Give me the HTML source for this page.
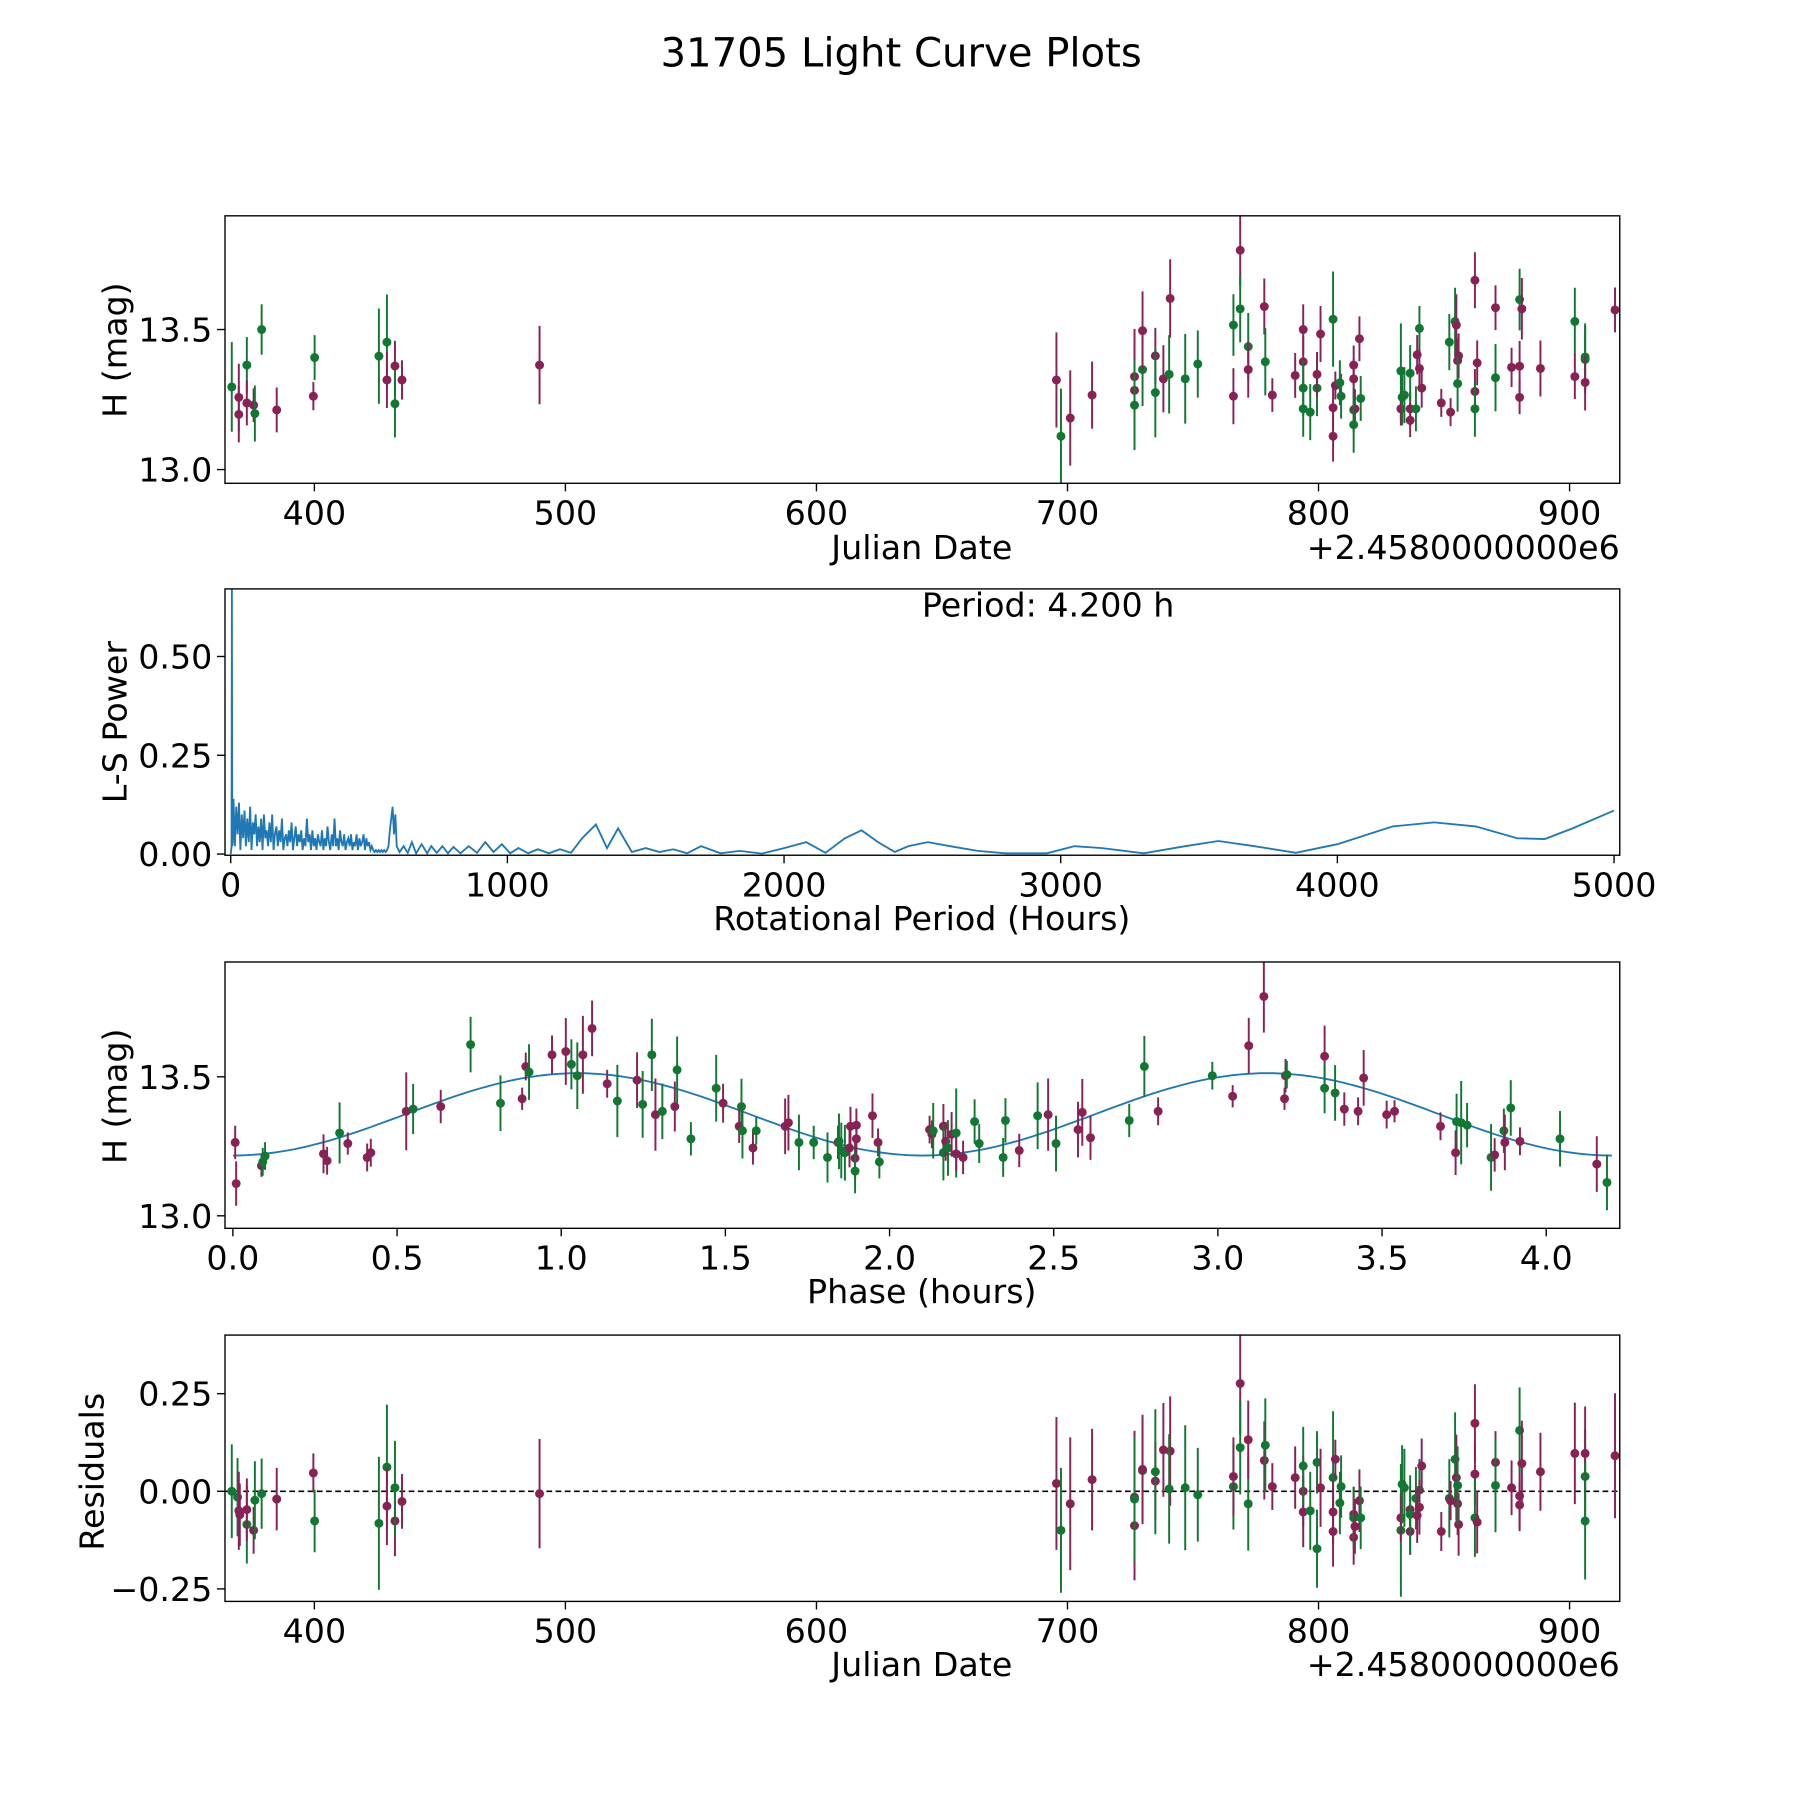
<!DOCTYPE html>
<html><head><meta charset="utf-8"><style>
html,body{margin:0;padding:0;background:#fff}
svg{display:block}
text{font-family:"DejaVu Sans","Liberation Sans",sans-serif;fill:#000}
</style></head><body>
<svg id="fig" xmlns="http://www.w3.org/2000/svg" width="1800" height="1800" viewBox="0 0 1568 1568">
<rect width="1568" height="1568" fill="#fff"/>
<text x="785" y="58" font-size="35" text-anchor="middle">31705 Light Curve Plots</text>
</svg>
<script>
// ---- Panel 1: light curve ----
const lcJD=[367.1,369.9,369.9,373.1,373.1,375.8,376.3,379.0,385.0,399.6,400.1,425.7,428.9,428.9,432.1,432.1,434.9,489.7,
695.6,697.4,701.1,709.8,726.7,726.7,726.7,729.9,729.9,735.0,735.0,738.2,740.9,740.5,746.9,751.9,766.1,766.1,768.8,768.8,772.0,772.0,778.4,778.8,781.6,790.7,793.9,793.9,793.9,793.9,796.7,799.4,799.4,800.8,805.8,805.8,805.8,806.7,808.5,809,814.0,814.0,814.0,814.5,814.0,816.3,816.8,832.8,832.8,833.3,834.2,836.5,836.5,836.5,838.8,840.2,839.3,840.2,841.1,848.9,852.1,852.6,854.4,854.9,855.4,855.8,855.4,862.3,862.3,862.3,863.2,870.5,870.5,876.9,880.1,880.1,880.1,881.0,888.4,902.1,902.1,906.2,906.2,906.2,918.1];
const lcMag=[13.295,13.258,13.197,13.373,13.238,13.23,13.2,13.5,13.213,13.262,13.40,13.405,13.455,13.32,13.37,13.235,13.32,13.373,
13.32,13.119,13.184,13.266,13.332,13.283,13.23,13.357,13.496,13.406,13.275,13.324,13.611,13.34,13.324,13.377,13.516,13.262,13.783,13.574,13.439,13.357,13.582,13.385,13.266,13.336,13.5,13.385,13.291,13.217,13.205,13.291,13.34,13.484,13.537,13.119,13.221,13.3,13.31,13.262,13.373,13.324,13.213,13.217,13.16,13.467,13.254,13.352,13.217,13.258,13.266,13.217,13.176,13.344,13.217,13.504,13.41,13.361,13.291,13.238,13.455,13.205,13.529,13.516,13.389,13.406,13.307,13.676,13.279,13.217,13.381,13.578,13.328,13.365,13.369,13.258,13.607,13.574,13.361,13.529,13.332,13.393,13.402,13.311,13.57];
const lcErr=[0.16,0.12,0.1,0.1,0.08,0.06,0.1,0.09,0.08,0.05,0.08,0.17,0.17,0.1,0.09,0.12,0.07,0.14,
0.17,0.17,0.17,0.12,0.17,0.17,0.16,0.13,0.14,0.1,0.16,0.12,0.14,0.14,0.16,0.12,0.11,0.1,0.13,0.12,0.12,0.1,0.1,0.12,0.06,0.08,0.09,0.09,0.1,0.1,0.1,0.1,0.08,0.1,0.17,0.09,0.08,0.05,0.08,0.08,0.07,0.07,0.08,0.07,0.1,0.08,0.08,0.17,0.06,0.1,0.1,0.06,0.06,0.1,0.08,0.08,0.07,0.07,0.07,0.05,0.1,0.05,0.12,0.11,0.08,0.08,0.1,0.1,0.08,0.1,0.08,0.08,0.12,0.07,0.09,0.06,0.11,0.11,0.1,0.12,0.08,0.12,0.12,0.1,0.08];
const lcBand=[1,0,0,1,0,0,1,1,0,0,1,1,1,0,0,1,0,0,
0,1,0,0,0,0,1,1,0,0,1,0,0,1,1,1,1,0,0,1,1,0,0,1,0,0,0,0,1,1,1,1,0,0,1,0,0,0,1,1,0,0,1,0,1,0,1,1,0,1,1,0,0,1,1,1,0,0,0,0,1,0,1,0,0,0,1,0,0,1,0,0,1,0,0,0,1,0,0,1,0,1,1,0,0];

// ---- Panel 2: periodogram ----
const lsPeriod=[0,3,4.2,5.5,7,10,15,20,25,30,35,40,45,50,55,60,65,70,75,80,85,90,95,100,105,110,115,120,125,130,135,140,145,150,155,160,165,170,175,180,185,190,195,200,205,210,215,220,225,230,235,240,245,250,255,260,265,270,275,280,285,290,295,300,305,310,315,320,325,330,335,340,345,350,355,360,365,370,375,380,385,390,395,400,405,410,415,420,425,430,435,440,445,450,455,460,465,470,475,480,485,490,495,500,505,510,515,520,525,530,535,540,545,550,555,560,565,570,575,580,585,590,595,600,
610,625,640,655,670,690,710,725,745,765,785,805,830,860,890,920,950,980,1010,1040,1075,1110,1150,1190,1230,1270,1320,1360,1400,1450,1500,1550,1600,1650,1700,1770,1840,1920,2000,2080,2150,2220,2280,2340,2400,2450,2520,2600,2700,2800,2950,3050,3150,3300,3450,3570,3700,3850,4000,4200,4350,4500,4650,4750,4850,5000];
const lsPower=[0,0.02,0.68,0.02,0.03,0.14,0.02,0.12,0.05,0.13,0.01,0.1,0.04,0.11,0.02,0.09,0.03,0.12,0.01,0.08,0.05,0.1,0.02,0.07,
0.03,0.09,0.01,0.1,0.04,0.06,0.02,0.08,0.03,0.1,0.01,0.05,0.07,0.02,0.06,0.03,0.09,0.01,0.04,0.05,
0.02,0.06,0.03,0.08,0.01,0.04,0.07,0.02,0.05,0.03,0.06,0.01,0.04,0.02,0.09,0.03,0.05,0.01,0.06,0.02,
0.04,0.01,0.05,0.03,0.02,0.06,0.01,0.04,0.02,0.07,0.03,0.01,0.05,0.02,0.09,0.02,0.04,0.01,0.06,0.03,
0.02,0.05,0.01,0.03,0.04,0.02,0.05,0.01,0.03,0.02,0.05,0.01,0.04,0.02,0.03,0.05,0.01,0.04,0.02,0.03,
0.01,0.02,0.01,0.005,0.01,0.005,0.01,0.005,0.01,0.005,0.01,0.005,0.01,0.02,0.06,0.09,0.12,0.05,0.1,0.02,
0.005,0.02,0.003,0.03,0.002,0.025,0.002,0.02,0.003,0.02,0.002,0.018,0.002,0.02,0.003,0.03,0.005,0.025,0.002,0.015,0.002,0.012,0.002,0.012,0.003,0.04,0.075,0.015,0.065,0.005,0.015,0.005,0.012,0.002,0.02,0.002,0.008,0.001,0.015,0.03,0.003,0.04,0.06,0.03,0.005,0.02,0.03,0.02,0.008,0.002,0.002,0.02,0.015,0.002,0.02,0.033,0.02,0.003,0.025,0.07,0.08,0.07,0.04,0.038,0.065,0.11];
const bestPeriodLabel="Period: 4.200 h";

// ---- Panel 3: phased ----
const phPhase=[0.007,0.01,0.087,0.091,0.098,0.276,0.287,0.325,0.35,0.409,0.42,0.528,0.549,0.633,0.724,0.815,0.881,0.892,0.902,0.972,1.014,1.031,1.049,1.066,1.094,1.14,1.171,1.231,1.248,1.276,1.287,1.308,1.346,1.353,1.395,1.472,1.493,1.549,1.542,1.552,1.584,1.594,1.682,1.692,1.724,1.769,1.811,1.843,1.846,1.853,1.864,1.878,1.881,1.895,1.895,1.899,1.899,1.948,1.965,1.969,2.122,2.129,2.133,2.164,2.164,2.171,2.178,2.189,2.203,2.203,2.224,2.259,2.273,2.395,2.346,2.353,2.451,2.483,2.507,2.574,2.587,2.612,2.73,2.776,2.818,2.983,3.045,3.094,3.14,3.203,3.206,3.21,3.325,3.325,3.357,3.385,3.427,3.444,3.514,3.538,3.678,3.727,3.724,3.741,3.759,3.832,3.843,3.871,3.874,3.892,3.92,4.042,4.154,4.185];
const phMag=[13.264,13.116,13.18,13.194,13.215,13.223,13.198,13.298,13.26,13.21,13.227,13.376,13.384,13.393,13.616,13.405,13.421,13.537,13.517,13.579,13.591,13.545,13.504,13.579,13.674,13.475,13.413,13.488,13.401,13.579,13.364,13.376,13.393,13.525,13.277,13.459,13.405,13.393,13.322,13.306,13.244,13.306,13.322,13.335,13.264,13.264,13.21,13.264,13.268,13.235,13.227,13.244,13.322,13.207,13.161,13.277,13.326,13.36,13.264,13.194,13.31,13.293,13.306,13.322,13.227,13.268,13.244,13.293,13.298,13.223,13.21,13.339,13.26,13.235,13.21,13.343,13.36,13.364,13.26,13.31,13.372,13.281,13.343,13.537,13.376,13.504,13.43,13.612,13.789,13.421,13.504,13.508,13.574,13.459,13.442,13.384,13.376,13.496,13.364,13.376,13.322,13.339,13.227,13.335,13.326,13.21,13.219,13.306,13.264,13.388,13.268,13.277,13.186,13.12];
const phErr=[0.06,0.08,0.04,0.05,0.05,0.07,0.05,0.11,0.04,0.05,0.05,0.14,0.09,0.06,0.1,0.1,0.04,0.05,0.1,0.07,0.12,0.09,0.12,0.14,0.1,0.05,0.13,0.1,0.12,0.13,0.13,0.1,0.09,0.12,0.06,0.12,0.07,0.1,0.06,0.1,0.06,0.05,0.1,0.1,0.1,0.06,0.09,0.06,0.1,0.1,0.1,0.07,0.07,0.08,0.08,0.06,0.06,0.08,0.05,0.06,0.05,0.05,0.1,0.08,0.1,0.07,0.1,0.08,0.16,0.06,0.06,0.08,0.07,0.06,0.07,0.08,0.12,0.13,0.1,0.1,0.12,0.08,0.06,0.11,0.05,0.05,0.04,0.1,0.13,0.04,0.06,0.05,0.11,0.09,0.1,0.06,0.05,0.1,0.05,0.04,0.05,0.1,0.08,0.15,0.08,0.12,0.06,0.08,0.1,0.1,0.05,0.1,0.1,0.1];
const phBand=[0,0,0,1,1,0,0,1,0,0,0,0,1,0,1,1,0,0,1,0,0,1,1,0,0,0,1,0,1,1,0,1,0,1,1,1,0,1,0,1,0,1,0,0,1,1,1,0,1,1,1,0,0,0,1,0,0,0,0,1,0,0,1,0,1,0,1,0,1,0,0,1,1,0,1,1,1,0,1,0,0,0,1,1,0,1,0,0,0,0,0,1,0,1,1,0,0,0,0,0,0,1,0,1,1,1,0,1,0,1,0,1,0,1];
const modelMean=13.365, modelAmp=0.148, modelPeak=1.05, modelHalfPeriod=2.1, modelMax=4.2;

// ---- Panel 4: residuals ----
const resJD=[367.1,369.4,369.9,370.3,373.1,373.1,375.8,376.3,379.0,385.0,399.6,400.1,425.7,428.9,428.9,432.1,432.1,434.9,489.7,
695.6,697.4,701.1,709.8,726.7,726.7,726.7,729.9,729.9,735.0,735.0,738.2,740.9,740.5,746.9,751.9,766.1,766.1,768.8,768.8,772.0,772.0,778.4,778.8,781.6,790.7,793.9,793.9,793.9,796.7,799.4,799.4,800.8,805.8,805.8,805.8,806.7,808.5,809,814.0,814.0,814.0,814.5,816.3,816.8,832.8,832.8,833.3,834.2,836.5,836.5,836.5,838.8,840.2,839.3,840.2,841.1,848.9,852.1,852.6,854.4,854.9,855.4,855.8,855.4,862.3,862.3,862.3,863.2,870.5,870.5,876.9,880.1,880.1,880.1,881.0,888.4,902.1,906.2,906.2,906.2,918.1];
const resVal=[0,-0.015,-0.05,-0.06,-0.085,-0.047,-0.1,-0.023,-0.006,-0.02,0.047,-0.076,-0.082,0.062,-0.038,-0.076,0.009,-0.026,-0.006,
0.02,-0.1,-0.032,0.03,-0.088,-0.015,-0.02,0.053,0.056,0.026,0.05,0.106,0.103,0.006,0.009,-0.009,0.012,0.038,0.276,0.112,-0.032,0.132,0.079,0.118,0.012,0.035,-0.053,0,0.065,-0.05,-0.147,0.074,0.009,0.035,-0.103,-0.053,0.082,-0.03,0.012,-0.059,-0.118,-0.068,-0.09,-0.024,-0.068,-0.1,-0.068,0.018,0.009,-0.047,-0.103,-0.059,-0.018,0.003,-0.062,-0.041,0.065,-0.103,-0.018,-0.024,0.082,0.035,-0.032,-0.085,0.015,0.174,0.044,-0.068,-0.079,0.074,0.015,0.009,-0.012,-0.035,0.156,0.071,0.05,0.097,0.038,0.097,-0.076,0.091];
const resErr=[0.12,0.1,0.1,0.08,0.1,0.08,0.06,0.1,0.09,0.08,0.05,0.08,0.17,0.16,0.1,0.09,0.12,0.07,0.14,
0.17,0.16,0.17,0.13,0.14,0.17,0.16,0.13,0.14,0.1,0.16,0.12,0.14,0.14,0.16,0.12,0.11,0.1,0.13,0.12,0.12,0.1,0.1,0.12,0.06,0.08,0.09,0.09,0.1,0.1,0.1,0.08,0.1,0.17,0.09,0.08,0.05,0.08,0.08,0.07,0.07,0.08,0.07,0.08,0.08,0.17,0.06,0.1,0.1,0.06,0.06,0.1,0.08,0.08,0.07,0.07,0.07,0.05,0.1,0.05,0.12,0.11,0.08,0.08,0.1,0.1,0.08,0.1,0.08,0.08,0.12,0.07,0.09,0.06,0.11,0.11,0.1,0.13,0.12,0.12,0.15,0.16];
const resBand=[1,1,0,0,1,0,0,1,1,0,0,1,1,1,0,0,1,0,0,
0,1,0,0,0,0,1,1,0,0,1,0,0,1,1,1,1,0,0,1,1,0,0,1,0,0,0,0,1,1,1,1,0,1,0,0,0,1,1,0,0,1,0,0,1,1,0,1,1,0,0,1,1,1,0,0,0,0,1,0,1,0,0,0,1,0,0,1,0,0,1,0,0,0,1,0,0,0,1,0,1,0];

const NS="http://www.w3.org/2000/svg";
const svg=document.getElementById('fig');
const COLORS=["#882255","#117733"];
const TF=29;
function mk(tag,attrs,parent){const e=document.createElementNS(NS,tag);for(const k in attrs)e.setAttribute(k,attrs[k]);(parent||svg).appendChild(e);return e;}
function linScale(d0,d1,r0,r1){return v=>r0+(v-d0)*(r1-r0)/(d1-d0);}

function makeAxes(name,L,T,R,B,xd,yd,xticks,xlabels,yticks,ylabels){
  const g=mk('g',{});
  
  
  const sx=linScale(xd[0],xd[1],L,R), sy=linScale(yd[0],yd[1],B,T);
  const clipId=name+'-clip';
  const cp=mk('clipPath',{id:clipId},g);mk('rect',{x:L,y:T,width:R-L,height:B-T},cp);
  const plot=mk('g',{'clip-path':'url(#'+clipId+')'},g);
  
  
  xticks.forEach((v,i)=>{const x=sx(v);
    const t=mk('line',{x1:x,x2:x,y1:B,y2:B+7,stroke:'#000','stroke-width':1.2},g);
    
    const tx=mk('text',{x:x,y:B+36,'font-size':TF,'text-anchor':'middle'},g);tx.textContent=xlabels[i];
    });
  yticks.forEach((v,i)=>{const y=sy(v);
    const t=mk('line',{x1:L-7,x2:L,y1:y,y2:y,stroke:'#000','stroke-width':1.2},g);
    
    const tx=mk('text',{x:L-11,y:y+10.5,'font-size':TF,'text-anchor':'end'},g);tx.textContent=ylabels[i];
    });
  const fr=mk('rect',{x:L,y:T,width:R-L,height:B-T,fill:'none',stroke:'#000','stroke-width':1.2},g);
  
  return {sx,sy,plot,g};
}
function label(txt,x,y,rot,name,anchor){
  const t=mk('text',{x:x,y:y,'font-size':TF,'text-anchor':anchor||'middle'});
  if(rot)t.setAttribute('transform','rotate(-90 '+x+' '+y+')');
  t.textContent=txt;
  
  
}
function errPoints(ax,xs,ys,es,bands,name){
  xs.forEach((xv,i)=>{
    const x=ax.sx(xv),y=ax.sy(ys[i]),c=COLORS[bands[i]];
    const gg=mk('g',{},ax.plot);
    
    
    mk('line',{x1:x,x2:x,y1:ax.sy(ys[i]-es[i]),y2:ax.sy(ys[i]+es[i]),stroke:c,'stroke-width':1.7},gg);
    mk('circle',{cx:x,cy:y,r:3.9,fill:c},gg);
  });
}

// Panel 1
const a1=makeAxes('light-curve-panel',196,188,1411,421,[364.4,920],[12.951,13.906],
  [400,500,600,700,800,900],['400','500','600','700','800','900'],[13.0,13.5],['13.0','13.5']);
errPoints(a1,lcJD,lcMag,lcErr,lcBand,'light-curve-point');
label('H (mag)',110,305,true,'y-axis-title-h-mag');
label('Julian Date',803,487,false,'x-axis-title-julian-date');
label('+2.4580000000e6',1411,487,false,'x-axis-offset-label','end');

// Panel 2
const a2=makeAxes('periodogram-panel',196,513,1411,745,[-20.7,5000+(1411-1406)/0.241],[-0.003,0.671],
  [0,1000,2000,3000,4000,5000],['0','1000','2000','3000','4000','5000'],[0,0.25,0.5],['0.00','0.25','0.50']);
const lsPts=lsPeriod.map((p,i)=>a2.sx(p).toFixed(1)+','+a2.sy(lsPower[i]).toFixed(1)).join(' ');
const lsLine=mk('polyline',{points:lsPts,fill:'none',stroke:'#1f77b4','stroke-width':1.6},a2.plot);


label(bestPeriodLabel,913,537,false,'best-period-annotation');
label('L-S Power',110,629,true,'y-axis-title-ls-power');
label('Rotational Period (Hours)',803,810,false,'x-axis-title-rotational-period');

// Panel 3
const a3=makeAxes('phased-panel',196,838,1411,1070,[-0.024,4.224],[12.955,13.913],
  [0,0.5,1,1.5,2,2.5,3,3.5,4],['0.0','0.5','1.0','1.5','2.0','2.5','3.0','3.5','4.0'],[13.0,13.5],['13.0','13.5']);
const mp=[];for(let k=0;k<=200;k++){const ph=modelMax*k/200;const m=modelMean+modelAmp*Math.cos(2*Math.PI*(ph-modelPeak)/modelHalfPeriod);mp.push(a3.sx(ph).toFixed(1)+','+a3.sy(m).toFixed(1));}
const ml=mk('polyline',{points:mp.join(' '),fill:'none',stroke:'#1f77b4','stroke-width':1.6},a3.plot);


errPoints(a3,phPhase,phMag,phErr,phBand,'phased-point');
label('H (mag)',110,955,true,'y-axis-title-h-mag-phased');
label('Phase (hours)',803,1135,false,'x-axis-title-phase');

// Panel 4
const a4=makeAxes('residuals-panel',196,1163,1411,1395,[364.4,920],[-0.282,0.4],
  [400,500,600,700,800,900],['400','500','600','700','800','900'],[-0.25,0,0.25],['\u22120.25','0.00','0.25']);
const zl=mk('line',{x1:196,x2:1411,y1:a4.sy(0),y2:a4.sy(0),stroke:'#000','stroke-width':1.4,'stroke-dasharray':'5,3'},a4.plot);


errPoints(a4,resJD,resVal,resErr,resBand,'residual-point');
label('Residuals',90,1282,true,'y-axis-title-residuals');
label('Julian Date',803,1460,false,'x-axis-title-julian-date-residuals');
label('+2.4580000000e6',1411,1460,false,'x-axis-offset-label-residuals','end');
</script>
</body></html>
